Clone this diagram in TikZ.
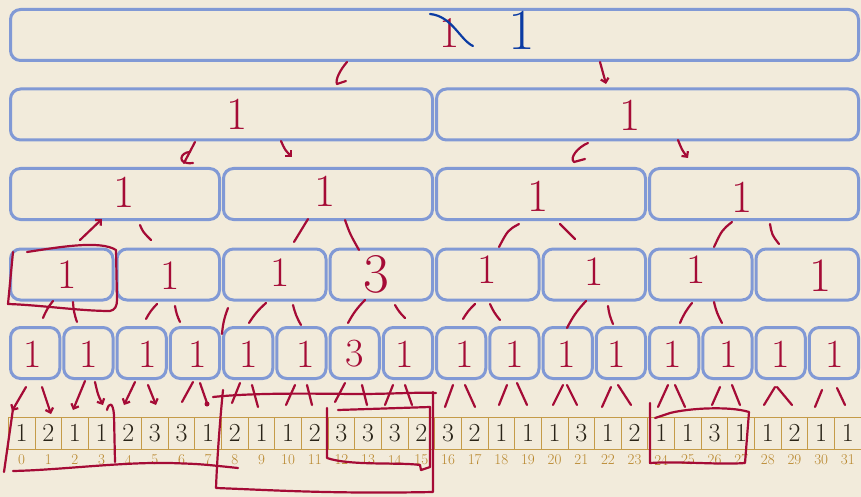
\documentclass[tikz,border=0pt]{standalone}
\usepackage{fontspec}
\usetikzlibrary{arrows.meta}
\definecolor{bg}{HTML}{F2EBDB}
\definecolor{boxblue}{HTML}{8199D5}
\definecolor{ink}{HTML}{A50B36}
\definecolor{bink}{HTML}{0B3BA3}
\definecolor{gold}{HTML}{B8862B}
\definecolor{cellline}{HTML}{C59B48}
\definecolor{digit}{HTML}{2A2418}
\begin{document}
\begin{tikzpicture}[x=1pt,y=-1pt,
  tbox/.style={draw=boxblue, line width=3pt, rounded corners=10pt, minimum height=51pt, inner sep=0pt, outer sep=0pt},
  cell/.style={draw=cellline, line width=0.9pt, minimum width=26.65pt, minimum height=32pt, inner sep=0pt, outer sep=0pt, font=\fontsize{26}{26}\selectfont, text=digit},
  idx/.style={text=gold, font=\fontsize{15}{15}\selectfont, inner sep=0pt},
  hand/.style={text=ink, inner sep=0pt, font=\fontsize{40}{40}\selectfont},
  handL/.style={hand, font=\fontsize{46}{46}\selectfont},
  handM/.style={hand, font=\fontsize{42}{42}\selectfont},
  stroke/.style={draw=ink, line width=2.2pt, line cap=round, line join=round},
  arr/.style={stroke, -{Straight Barb[length=4pt,width=8pt]}},
]
\fill[bg] (0,0) rectangle (861,497);
\useasboundingbox (0,0) rectangle (861,497);

% tree boxes
\foreach \k/\n/\cy in {0/1/35, 1/2/114.5, 2/4/194, 3/8/274.5, 4/16/353} {
  \pgfmathsetmacro\S{852/\n}
  \pgfmathtruncatemacro\last{\n-1}
  \foreach \i in {0,...,\last} {
    \pgfmathsetmacro\cx{10.5+\i*\S+(\S-4)/2}
    \node[tbox, minimum width={\S-4}] (L\k-\i) at (\cx,\cy) {};
  }
}

% array
\foreach \v [count=\j from 0] in {1,2,1,1,2,3,3,1,2,1,1,2,3,3,3,2,3,2,1,1,1,3,1,2,1,1,3,1,1,2,1,1} {
  \node[cell] (c\j) at ({8.3+26.65*(\j+0.5)},433) {\v};
  \node[idx] (i\j) at ({8.3+26.65*(\j+0.5)},460) {\j};
}

% level 0 scribbles
\node[hand, font=\fontsize{44}{44}\selectfont] (r0) at (450,33) {1};
\draw[bink, line width=2.2pt, line cap=round] (430,14) .. controls (452,16) and (460,40) .. (473,46);
\node[hand, text=bink, font=\fontsize{58}{58}\selectfont] (b0) at (522,30) {1};

% level 1
\node[handL] (r1a) at (237,114) {1};
\node[handL] (r1b) at (630,115) {1};
% level 2
\node[handL] (r2a) at (124,192) {1};
\node[handL] (r2b) at (325,191) {1};
\node[handL] (r2c) at (538,196) {1};
\node[handL] (r2d) at (742,197) {1};
% level 3
\node[handM] (r3a) at (67,275) {1};
\node[handM] (r3b) at (170,276) {1};
\node[handM] (r3c) at (280,273) {1};
\node[hand, font=\fontsize{56}{56}\selectfont] (r3d) at (376,274) {3};
\node[handM] (r3e) at (487,270) {1};
\node[handM] (r3f) at (594,272) {1};
\node[handM] (r3g) at (696,270) {1};
\node[hand, font=\fontsize{48}{48}\selectfont] (r3h) at (821,276) {1};
% level 4
\foreach \x/\v [count=\j from 0] in {33/1,89/1,148/1,198/1,249/1,306/1,355/3,405/1,465/1,515/1,567/1,617/1,673/1,729/1,781/1,835/1} {
  \node[hand] (r4-\j) at (\x,354) {\v};
}

% strokes level 0 -> 1
\draw[stroke] (347,62) .. controls (340,70) and (335,80) .. (337,84) -- (346,81);
\draw[arr] (600,62) .. controls (603,72) .. (606,84);
% level 1 -> 2
\draw[stroke] (195,142) -- (184,163);
\draw[stroke] (190,152) .. controls (180,152) and (176,165) .. (193,163);
\draw[arr] (281,141) .. controls (285,150) .. (292,157);
\draw[stroke] (588,143) .. controls (578,147) and (569,158) .. (574,162) -- (585,159);
\draw[arr] (678,140) .. controls (682,150) .. (688,158);
% level 2 -> 3
\draw[arr] (80,240) -- (102,219);
\draw[stroke] (140,225) .. controls (143,232) .. (151,240);
\draw[stroke] (308,219) -- (294,242);
\draw[stroke] (345,220) .. controls (350,234) .. (359,250);
\draw[stroke] (519,224) .. controls (508,230) .. (499,247);
\draw[stroke] (560,224) -- (575,239);
\draw[stroke] (732,222) .. controls (722,230) .. (714,247);
\draw[stroke] (770,224) .. controls (772,235) .. (779,244);
% level 3 -> 4
\foreach \a/\b/\c/\d in {53/301/43/318, 73/302/77/322, 157/304/146/319, 175/306/180/322,
  266/303/249/323, 293/305/301/325, 228/308/222/334, 365/300/348/323, 395/305/405/318,
  475/304/463/319, 490/304/500/320, 586/301/567/328, 608/306/613/324, 692/303/680/323, 714/302/722/323} {
  \draw[stroke] (\a,\b) to[bend right=8] (\c,\d);
}
% level 4 -> array
\draw[arr] (26,387) -- (12,411);
\draw[stroke] (13,409) -- (4,472);
\draw[arr] (42,387) -- (51,414);
\draw[arr] (85,381) -- (73,410);
\draw[arr] (95,382) .. controls (98,395) .. (103,405);
\draw[arr] (135,382) -- (124,405);
\draw[arr] (148,385) -- (156,405);
\draw[stroke] (193,382) -- (182,402);
\draw[stroke] (200,383) -- (207,403);
\fill[ink] (207,404) circle (2.5);
\foreach \a/\b/\c/\d in {240/383/232/403, 252/385/258/407, 295/385/286/405, 307/385/312/405,
  345/383/335/402, 362/385/367/405, 393/385/385/405, 405/385/412/405,
  453/385/445/407, 465/385/475/407, 507/385/499/405, 517/383/527/405,
  563/385/553/405, 567/385/577/405, 611/387/602/407, 618/385/631/405,
  668/385/658/407, 675/385/685/407, 720/387/712/405, 732/385/740/405,
  775/387/764/405, 777/387/792/405, 822/390/815/407, 837/388/845/405} {
  \draw[stroke] (\a,\b) -- (\c,\d);
}
\draw[stroke] (107,410) .. controls (109,402) and (113,402) .. (114,415) -- (115,462);

% outline around L3-0
\draw[stroke] (27,252) .. controls (60,247) and (100,240) .. (116,250) -- (117,300)
  .. controls (117,306) and (115,310) .. (110,311) .. controls (80,311) and (40,305) .. (8,304) -- (13,252);
% underline under 0..8
\draw[stroke] (13,471) .. controls (60,470) and (120,462) .. (170,463) .. controls (200,464) .. (238,468);
% big box 8..15
\draw[stroke] (223,390) .. controls (220,420) and (217,460) .. (216,488)
  .. controls (270,490) and (330,494) .. (433,492) -- (433,392);
\draw[stroke] (213,397) .. controls (260,392) and (330,394) .. (360,394) .. controls (390,394) and (420,392) .. (436,393);
% inner box 12..15
\draw[stroke] (338,410) -- (430,407);
\draw[stroke] (327,408) -- (327,458) .. controls (350,466) and (400,462) .. (420,465) -- (421,470) -- (430,467) -- (430,407);
% box 24..27
\draw[stroke] (650,403) -- (650,463) .. controls (680,461) and (720,465) .. (745,463) -- (749,412)
  .. controls (730,406) and (690,408) .. (670,413) .. controls (662,415) .. (655,418);
\end{tikzpicture}
\end{document}
